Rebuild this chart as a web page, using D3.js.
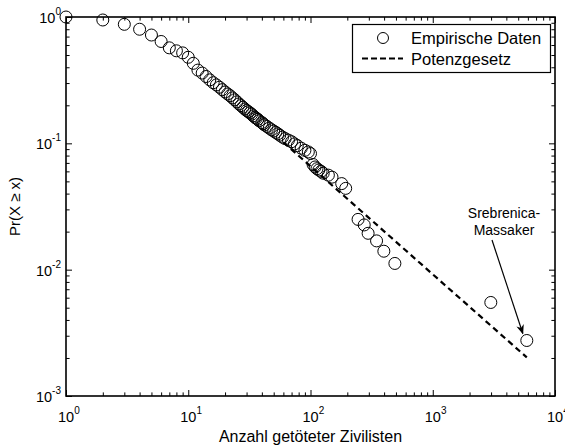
<!DOCTYPE html>
<html><head><meta charset="utf-8">
<script src="https://cdn.jsdelivr.net/npm/d3@7"></script>
<style>body{margin:0;background:#fff}svg{display:block}text{font-family:"Liberation Sans",Arial,sans-serif}</style>
</head><body>
<svg id="c" width="565" height="447"></svg>
<script>
// Empirical CCDF data: number of civilians killed vs Pr(X >= x)
const killedX = [1,2,3,4,5,6,7,8,9,10,11,12,13,14,15,16,17,18,19,20,21,22,23,24,25,26,27,28,29,30,31,32,33,34,35,36,37,38,40,41,42,44,46,48,50,52,54,56,59,62,66,70,74,78,84,90,96,100,105,109,113,117,122,127,140,150,180,194,245,275,296,347,398,490,2985,5880];
const ccdfY   = [1,0.947,0.875,0.80,0.72,0.64,0.57,0.54,0.52,0.48,0.43,0.38,0.36,0.338,0.318,0.302,0.29,0.278,0.266,0.255,0.246,0.238,0.229,0.221,0.213,0.205,0.199,0.193,0.187,0.182,0.178,0.174,0.170,0.165,0.161,0.158,0.155,0.151,0.146,0.143,0.140,0.136,0.132,0.128,0.125,0.122,0.119,0.116,0.112,0.109,0.106,0.103,0.099,0.096,0.0915,0.088,0.0855,0.083,0.068,0.065,0.063,0.0615,0.060,0.058,0.056,0.054,0.048,0.044,0.025,0.0226,0.0194,0.0169,0.014,0.0112,0.0055,0.00275];
// Power-law fit (dashed)
const fitX = [60, 5880];
const fitY = [0.102, 0.00202];
const xTicks = [1,10,100,1000,10000];
const xExps = ["0","1","2","3","4"];
const yTicks = [1,0.1,0.01,0.001];
const yExps = ["0","-1","-2","-3"];
const legendLabels = ["Empirische Daten","Potenzgesetz"];
const xLabel = "Anzahl getöteter Zivilisten";
const yLabel = "Pr(X \u2265 x)";
const annotation = ["Srebrenica-","Massaker"];

const L=66,R=555,T=17,B=396;
const svg=d3.select("#c");
const x=d3.scaleLog().domain([1,10000]).range([L,R]);
const y=d3.scaleLog().domain([0.001,1]).range([B,T]);

const minorX=[];for(let d=1;d<10000;d*=10)for(let k=2;k<=9;k++)minorX.push(d*k);
const minorY=[];for(let d=0.001;d<0.99;d*=10)for(let k=2;k<=9;k++)minorY.push(d*k);

const g=svg.append("g");
g.selectAll("circle.d").data(killedX).enter().append("circle")
 .attr("cx",d=>x(d)).attr("cy",(d,i)=>y(ccdfY[i])).attr("r",6)
 .attr("fill","none").attr("stroke","#000").attr("stroke-width",1);
const line=d3.line().x(d=>x(d[0])).y(d=>y(d[1]));
g.append("path").datum(fitX.map((v,i)=>[v,fitY[i]])).attr("d",line)
 .attr("fill","none").attr("stroke","#000").attr("stroke-width",2.2).attr("stroke-dasharray","6,4");

function mk(axis,tr,maj,minr,len){
  const a=svg.append("g").attr("transform",tr);
  a.call(axis.tickValues(maj).tickSize(len).tickFormat(""));
  a.select(".domain").remove();
  const b=svg.append("g").attr("transform",tr);
  b.call(axis.tickValues(minr).tickSize(len*0.6).tickFormat(""));
  b.select(".domain").remove();
}
mk(d3.axisTop(x),`translate(0,${B})`,xTicks,minorX,6);
mk(d3.axisBottom(x),`translate(0,${T})`,xTicks,minorX,6);
mk(d3.axisRight(y),`translate(${L},0)`,yTicks,minorY,6);
mk(d3.axisLeft(y),`translate(${R},0)`,yTicks,minorY,6);
svg.append("rect").attr("x",L).attr("y",T).attr("width",R-L).attr("height",B-T)
 .attr("fill","none").attr("stroke","#000").attr("stroke-width",1.6);

xTicks.forEach((v,i)=>{
  const t=svg.append("text").attr("x",x(v)-8).attr("y",422).attr("text-anchor","start").attr("font-size",14.5);
  t.append("tspan").text("10");
  t.append("tspan").attr("dy",-8).attr("font-size",10).text(xExps[i]);
});
yTicks.forEach((v,i)=>{
  const t=svg.append("text").attr("x",L-5).attr("y",y(v)+6).attr("text-anchor","end").attr("font-size",14.5);
  t.append("tspan").text("10");
  t.append("tspan").attr("dy",-8).attr("font-size",10).text(yExps[i]);
});
svg.append("text").attr("x",(L+R)/2).attr("y",442).attr("text-anchor","middle").attr("font-size",16).text(xLabel);
svg.append("text").attr("transform",`translate(20,${(T+B)/2}) rotate(-90)`).attr("text-anchor","middle").attr("font-size",15).text(yLabel);

svg.append("rect").attr("x",352.5).attr("y",24.5).attr("width",198).attr("height",48).attr("fill","#fff").attr("stroke","#000").attr("stroke-width",1.2);
svg.append("circle").attr("cx",383).attr("cy",38).attr("r",5.5).attr("fill","none").attr("stroke","#000");
svg.append("line").attr("x1",362).attr("x2",403).attr("y1",58.5).attr("y2",58.5).attr("stroke","#000").attr("stroke-width",2).attr("stroke-dasharray","6,3");
svg.append("text").attr("x",411).attr("y",44).attr("font-size",16.5).text(legendLabels[0]);
svg.append("text").attr("x",411).attr("y",65).attr("font-size",16.5).text(legendLabels[1]);

svg.append("defs").append("marker").attr("id","ah").attr("viewBox","0 0 10 10").attr("refX",9).attr("refY",5)
 .attr("markerWidth",8).attr("markerHeight",8).attr("orient","auto")
 .append("path").attr("d","M0,1 L10,5 L0,9 L3,5 Z").attr("fill","#000");
const ax=x(5880), ay=y(0.00275);
svg.append("line").attr("x1",492).attr("y1",240).attr("x2",ax-4).attr("y2",ay-7).attr("stroke","#000").attr("stroke-width",1.2).attr("marker-end","url(#ah)");
svg.append("text").attr("x",504).attr("y",218).attr("text-anchor","middle").attr("font-size",14).text(annotation[0]);
svg.append("text").attr("x",504).attr("y",235).attr("text-anchor","middle").attr("font-size",14).text(annotation[1]);
</script>
</body></html>
